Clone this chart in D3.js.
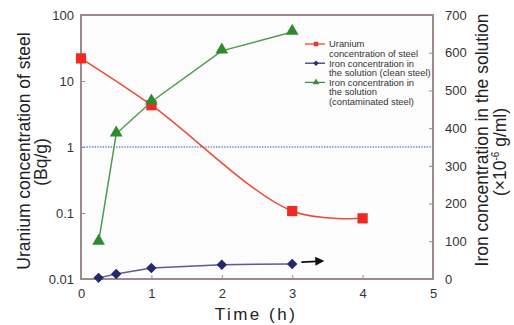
<!DOCTYPE html>
<html>
<head>
<meta charset="utf-8">
<script src="https://cdn.jsdelivr.net/npm/d3@7"></script>
<style>
  body { margin: 0; background: #fff; }
  text { font-family: "Liberation Sans", Arial, sans-serif; }
</style>
</head>
<body>
<div id="wrapper"></div>
<script>
// values
const uraniumTime = [0, 1, 3, 4];
const uraniumConc = [22, 4.3, 0.107, 0.083];

const cleanTime = [0.25, 0.5, 1, 2, 3];
const cleanIron = [3, 13, 29, 38, 40];

const contamTime = [0.25, 0.5, 1, 2, 3];
const contamIron = [98, 385, 470, 605, 655];

const xTicks = [0, 1, 2, 3, 4, 5];
const yLeftTicks = [0.01, 0.1, 1, 10, 100];
const yRightTicks = [0, 100, 200, 300, 400, 500, 600, 700];
const refLevel = 1;
const arrowFrom = 3.13, arrowTo = 3.43, arrowLevel = 45;

const legendItems = [
  {lines: ["Uranium", "concentration of steel"], color: "#e8392b", shape: d3.symbolSquare},
  {lines: ["Iron concentration in", "the solution (clean steel)"], color: "#2c2e7c", shape: d3.symbolDiamond2},
  {lines: ["Iron concentration in", "the solution", "(contaminated steel)"], color: "#3c8c3c", shape: d3.symbolTriangle},
];

const W = 514, H = 325;
const margin = {top: 15, right: 81, bottom: 46, left: 81};
const width = W - margin.left - margin.right;
const height = H - margin.top - margin.bottom;

const svg = d3.select(`#wrapper`)
  .append(`svg`)
  .attr(`width`, W)
  .attr(`height`, H);

const g = svg.append(`g`)
  .attr(`transform`, `translate(${margin.left}, ${margin.top})`);

const x = d3.scaleLinear().domain([0, 5]).range([0, width]);
const yL = d3.scaleLog().domain([0.01, 100]).range([height, 0]);
const yR = d3.scaleLinear().domain([0, 700]).range([height, 0]);

g.append(`rect`)
  .attr(`width`, width).attr(`height`, height)
  .attr(`fill`, `#fcfcfc`);

// axes with inward ticks
const axisColor = `#9a8c8a`;
const styleAxis = sel => {
  sel.select(`.domain`).remove();
  sel.selectAll(`line`).attr(`stroke`, axisColor);
  sel.selectAll(`text`).attr(`fill`, `#333`).attr(`font-size`, 13);
};

g.append(`g`)
  .attr(`transform`, `translate(0, ${height})`)
  .call(d3.axisBottom(x).tickValues(xTicks).tickFormat(d3.format(`d`)).tickSizeInner(-4).tickSizeOuter(0).tickPadding(10))
  .call(styleAxis)
  .call(s => s.selectAll(`.tick`).filter(d => d === 0 || d === 5).select(`line`).remove());

g.append(`g`)
  .call(d3.axisLeft(yL).tickValues(yLeftTicks).tickFormat(d => String(d)).tickSizeInner(-4).tickSizeOuter(0).tickPadding(7))
  .call(styleAxis)
  .call(s => s.selectAll(`.tick`).filter(d => d === 0.01 || d === 100).select(`line`).remove());

g.append(`g`)
  .attr(`transform`, `translate(${width}, 0)`)
  .call(d3.axisRight(yR).tickValues(yRightTicks).tickSizeInner(-4).tickSizeOuter(0).tickPadding(12))
  .call(styleAxis)
  .call(s => s.selectAll(`.tick`).filter(d => d === 0 || d === 700).select(`line`).remove());

g.append(`rect`)
  .attr(`width`, width).attr(`height`, height)
  .attr(`fill`, `none`)
  .attr(`stroke`, axisColor)
  .attr(`stroke-width`, 2);

// reference dotted line
g.append(`line`)
  .attr(`x1`, 0).attr(`x2`, width)
  .attr(`y1`, yL(refLevel)).attr(`y2`, yL(refLevel))
  .attr(`stroke`, `#6d8fd6`)
  .attr(`stroke-width`, 1.5)
  .attr(`stroke-dasharray`, `1.5,1.2`);

// series
const uranium = uraniumTime.map((t, i) => [x(t), yL(uraniumConc[i])]);
const clean = cleanTime.map((t, i) => [x(t), yR(cleanIron[i])]);
const contam = contamTime.map((t, i) => [x(t), yR(contamIron[i])]);

g.append(`path`)
  .attr(`d`, d3.line().curve(d3.curveCatmullRom.alpha(0.5))(uranium))
  .attr(`fill`, `none`).attr(`stroke`, `#ec4a36`).attr(`stroke-width`, 1.5);

g.append(`path`)
  .attr(`d`, d3.line()(contam))
  .attr(`fill`, `none`).attr(`stroke`, `#4f9a4f`).attr(`stroke-width`, 1.5);

g.append(`path`)
  .attr(`d`, d3.line()(clean))
  .attr(`fill`, `none`).attr(`stroke`, `#5e5a9a`).attr(`stroke-width`, 1.5);

g.selectAll(`.sq`).data(uranium).join(`path`)
  .attr(`d`, d3.symbol().type(d3.symbolSquare).size(105))
  .attr(`transform`, d => `translate(${d[0]},${d[1]})`)
  .attr(`fill`, `#ee2a22`);

g.selectAll(`.tri`).data(contam).join(`path`)
  .attr(`d`, d3.symbol().type(d3.symbolTriangle).size(70))
  .attr(`transform`, d => `translate(${d[0]},${d[1] - 1})`)
  .attr(`fill`, `#2f8a2f`);

g.selectAll(`.dia`).data(clean).join(`path`)
  .attr(`d`, d3.symbol().type(d3.symbolDiamond2).size(70))
  .attr(`transform`, d => `translate(${d[0]},${d[1]})`)
  .attr(`fill`, `#26286e`);

// arrow
svg.append(`defs`).append(`marker`)
  .attr(`id`, `arrowhead`)
  .attr(`viewBox`, `0 0 10 10`)
  .attr(`refX`, 8).attr(`refY`, 5)
  .attr(`markerWidth`, 5).attr(`markerHeight`, 5)
  .attr(`orient`, `auto`)
  .append(`path`).attr(`d`, `M0,0L10,5L0,10z`).attr(`fill`, `#111`);

g.append(`line`)
  .attr(`x1`, x(arrowFrom)).attr(`x2`, x(arrowTo))
  .attr(`y1`, yR(arrowLevel)).attr(`y2`, yR(arrowLevel) - 1)
  .attr(`stroke`, `#111`).attr(`stroke-width`, 1.8)
  .attr(`marker-end`, `url(#arrowhead)`);

// legend
const pitch = 9.6;
const legend = svg.append(`g`).attr(`transform`, `translate(305, 44)`);
let ly = 0;
legendItems.forEach(item => {
  legend.append(`line`)
    .attr(`x1`, 0).attr(`x2`, 20).attr(`y1`, ly).attr(`y2`, ly)
    .attr(`stroke`, item.color).attr(`stroke-width`, 1.2);
  legend.append(`path`)
    .attr(`d`, d3.symbol().type(item.shape).size(20))
    .attr(`transform`, `translate(11,${ly})`)
    .attr(`fill`, item.color);
  item.lines.forEach((s, i) => {
    legend.append(`text`)
      .attr(`x`, 24).attr(`y`, ly + 3.3 + i * pitch)
      .attr(`font-size`, 9.4).attr(`fill`, `#333`)
      .text(s);
  });
  ly += item.lines.length * pitch;
});

// axis titles
svg.append(`text`)
  .attr(`transform`, `translate(30, 151) rotate(-90)`)
  .attr(`text-anchor`, `middle`).attr(`font-size`, 17.5).attr(`fill`, `#222`)
  .text(`Uranium concentration of steel`);
svg.append(`text`)
  .attr(`transform`, `translate(47, 162) rotate(-90)`)
  .attr(`text-anchor`, `middle`).attr(`font-size`, 17.5).attr(`fill`, `#222`)
  .text(`(Bq/g)`);

svg.append(`text`)
  .attr(`transform`, `translate(488, 140) rotate(-90)`)
  .attr(`text-anchor`, `middle`).attr(`font-size`, 17.5).attr(`fill`, `#222`)
  .text(`Iron concentration in the solution`);
const rt = svg.append(`text`)
  .attr(`transform`, `translate(506, 152) rotate(-90)`)
  .attr(`text-anchor`, `middle`).attr(`font-size`, 17.5).attr(`fill`, `#222`);
rt.append(`tspan`).text(`(×10`);
rt.append(`tspan`).attr(`font-size`, 10).attr(`dy`, -7).text(`-6`);
rt.append(`tspan`).attr(`dy`, 7).text(` g/ml)`);

svg.append(`text`)
  .attr(`x`, 256).attr(`y`, 320)
  .attr(`text-anchor`, `middle`).attr(`font-size`, 17).attr(`fill`, `#222`)
  .attr(`letter-spacing`, 2.5)
  .text(`Time (h)`);
</script>
</body>
</html>
